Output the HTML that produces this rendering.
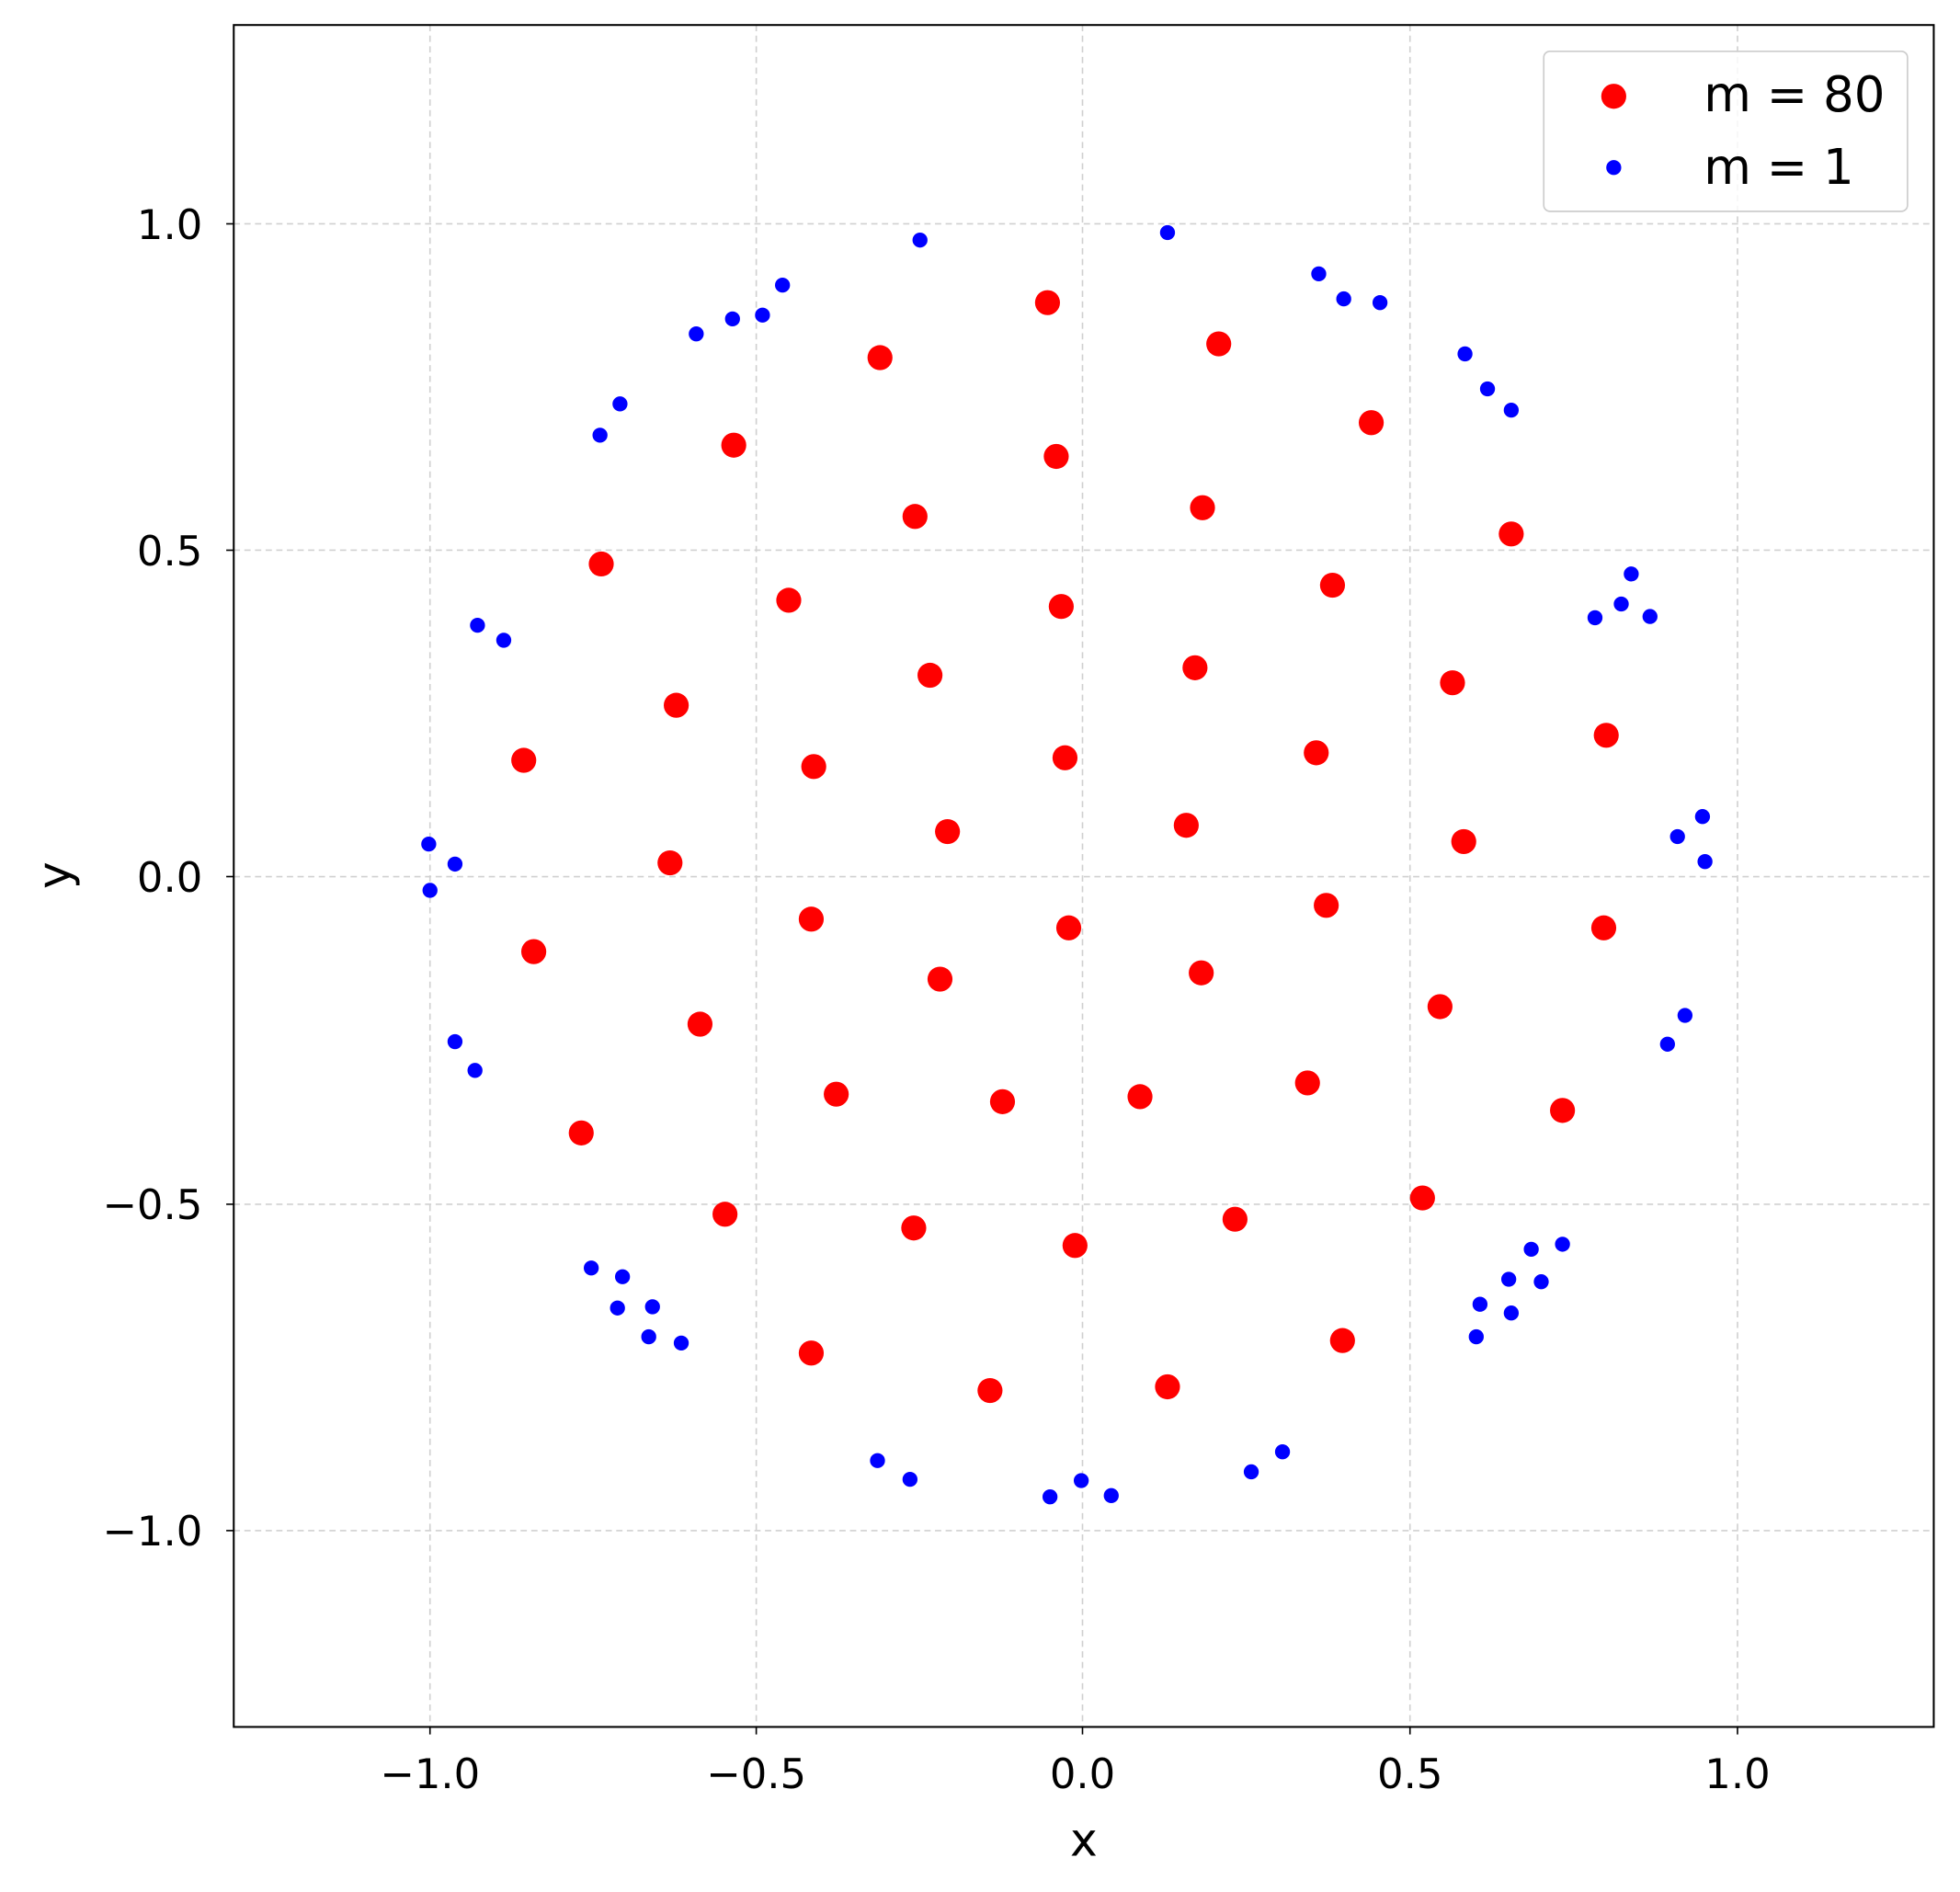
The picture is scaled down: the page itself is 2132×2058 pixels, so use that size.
<!DOCTYPE html>
<html><head><meta charset="utf-8"><style>html,body{margin:0;padding:0;background:#fff}svg{display:block}</style></head>
<body>
<svg width="2132" height="2058" viewBox="0 0 1568 1513" preserveAspectRatio="none" xmlns="http://www.w3.org/2000/svg" font-family="'DejaVu Sans','Liberation Sans',sans-serif">
<rect width="1568" height="1513" fill="#fff"/>
<g stroke="#d0d0d0" stroke-width="1.2" stroke-dasharray="5,3.5">
<line x1="344" y1="20" x2="344" y2="1381"/><line x1="605" y1="20" x2="605" y2="1381"/><line x1="866" y1="20" x2="866" y2="1381"/><line x1="1128" y1="20" x2="1128" y2="1381"/><line x1="1390" y1="20" x2="1390" y2="1381"/>
<line x1="187" y1="179" x2="1547" y2="179"/><line x1="187" y1="440" x2="1547" y2="440"/><line x1="187" y1="701" x2="1547" y2="701"/><line x1="187" y1="963" x2="1547" y2="963"/><line x1="187" y1="1224" x2="1547" y2="1224"/>
</g>
<g fill="red">
<circle cx="838" cy="242" r="10"/><circle cx="975" cy="275" r="10"/><circle cx="704" cy="286" r="10"/><circle cx="1097" cy="338" r="10"/><circle cx="587" cy="356" r="10"/><circle cx="845" cy="365" r="10"/><circle cx="732" cy="413" r="10"/><circle cx="962" cy="406" r="10"/><circle cx="1209" cy="427" r="10"/><circle cx="481" cy="451" r="10"/><circle cx="1066" cy="468" r="10"/><circle cx="631" cy="480" r="10"/><circle cx="849" cy="485" r="10"/><circle cx="744" cy="540" r="10"/><circle cx="956" cy="534" r="10"/><circle cx="1162" cy="546" r="10"/><circle cx="541" cy="564" r="10"/><circle cx="1285" cy="588" r="10"/><circle cx="419" cy="608" r="10"/><circle cx="651" cy="613" r="10"/><circle cx="852" cy="606" r="10"/><circle cx="1053" cy="602" r="10"/><circle cx="758" cy="665" r="10"/><circle cx="949" cy="660" r="10"/><circle cx="1171" cy="673" r="10"/><circle cx="536" cy="690" r="10"/><circle cx="1061" cy="724" r="10"/><circle cx="649" cy="735" r="10"/><circle cx="855" cy="742" r="10"/><circle cx="1283" cy="742" r="10"/><circle cx="427" cy="761" r="10"/><circle cx="752" cy="783" r="10"/><circle cx="961" cy="778" r="10"/><circle cx="1152" cy="805" r="10"/><circle cx="560" cy="819" r="10"/><circle cx="669" cy="875" r="10"/><circle cx="802" cy="881" r="10"/><circle cx="912" cy="877" r="10"/><circle cx="1046" cy="866" r="10"/><circle cx="1250" cy="888" r="10"/><circle cx="465" cy="906" r="10"/><circle cx="1138" cy="958" r="10"/><circle cx="580" cy="971" r="10"/><circle cx="731" cy="982" r="10"/><circle cx="988" cy="975" r="10"/><circle cx="860" cy="996" r="10"/><circle cx="649" cy="1082" r="10"/><circle cx="1074" cy="1072" r="10"/><circle cx="792" cy="1112" r="10"/><circle cx="934" cy="1109" r="10"/>
</g>
<g fill="blue">
<circle cx="736" cy="192" r="6"/><circle cx="934" cy="186" r="6"/><circle cx="1055" cy="219" r="6"/><circle cx="1075" cy="239" r="6"/><circle cx="1104" cy="242" r="6"/><circle cx="626" cy="228" r="6"/><circle cx="610" cy="252" r="6"/><circle cx="586" cy="255" r="6"/><circle cx="557" cy="267" r="6"/><circle cx="496" cy="323" r="6"/><circle cx="480" cy="348" r="6"/><circle cx="1172" cy="283" r="6"/><circle cx="1190" cy="311" r="6"/><circle cx="1209" cy="328" r="6"/><circle cx="382" cy="500" r="6"/><circle cx="403" cy="512" r="6"/><circle cx="1305" cy="459" r="6"/><circle cx="1297" cy="483" r="6"/><circle cx="1276" cy="494" r="6"/><circle cx="1320" cy="493" r="6"/><circle cx="1362" cy="653" r="6"/><circle cx="1342" cy="669" r="6"/><circle cx="1364" cy="689" r="6"/><circle cx="343" cy="675" r="6"/><circle cx="364" cy="691" r="6"/><circle cx="344" cy="712" r="6"/><circle cx="1348" cy="812" r="6"/><circle cx="1334" cy="835" r="6"/><circle cx="364" cy="833" r="6"/><circle cx="380" cy="856" r="6"/><circle cx="473" cy="1014" r="6"/><circle cx="498" cy="1021" r="6"/><circle cx="494" cy="1046" r="6"/><circle cx="522" cy="1045" r="6"/><circle cx="519" cy="1069" r="6"/><circle cx="545" cy="1074" r="6"/><circle cx="1250" cy="995" r="6"/><circle cx="1225" cy="999" r="6"/><circle cx="1207" cy="1023" r="6"/><circle cx="1233" cy="1025" r="6"/><circle cx="1184" cy="1043" r="6"/><circle cx="1209" cy="1050" r="6"/><circle cx="1181" cy="1069" r="6"/><circle cx="702" cy="1168" r="6"/><circle cx="728" cy="1183" r="6"/><circle cx="840" cy="1197" r="6"/><circle cx="865" cy="1184" r="6"/><circle cx="889" cy="1196" r="6"/><circle cx="1001" cy="1177" r="6"/><circle cx="1026" cy="1161" r="6"/>
</g>
<rect x="187" y="20" width="1360" height="1361" fill="none" stroke="#000" stroke-width="1.5"/>
<g stroke="#000" stroke-width="1.2">
<line x1="344" y1="1381" x2="344" y2="1387"/><line x1="605" y1="1381" x2="605" y2="1387"/><line x1="866" y1="1381" x2="866" y2="1387"/><line x1="1128" y1="1381" x2="1128" y2="1387"/><line x1="1390" y1="1381" x2="1390" y2="1387"/>
<line x1="181" y1="179" x2="187" y2="179"/><line x1="181" y1="440" x2="187" y2="440"/><line x1="181" y1="701" x2="187" y2="701"/><line x1="181" y1="963" x2="187" y2="963"/><line x1="181" y1="1224" x2="187" y2="1224"/>
</g>
<g font-size="33" fill="#000" text-anchor="middle">
<text x="344" y="1430">−1.0</text><text x="605" y="1430">−0.5</text><text x="866" y="1430">0.0</text><text x="1128" y="1430">0.5</text><text x="1390" y="1430">1.0</text>
</g>
<g font-size="33" fill="#000" text-anchor="end">
<text x="162" y="191">1.0</text><text x="162" y="452">0.5</text><text x="162" y="713">0.0</text><text x="162" y="975">−0.5</text><text x="162" y="1236">−1.0</text>
</g>
<text x="867" y="1484" font-size="37" text-anchor="middle">x</text>
<text x="0" y="0" font-size="37" text-anchor="middle" transform="translate(56,700) rotate(-90)">y</text>
<rect x="1235" y="41" width="291" height="128" rx="5" fill="#fff" fill-opacity="0.8" stroke="#ccc" stroke-width="1.2"/>
<circle cx="1291" cy="77" r="10" fill="red"/>
<circle cx="1291" cy="134" r="6" fill="blue"/>
<text x="1363" y="89" font-size="39">m = 80</text>
<text x="1363" y="147" font-size="39">m = 1</text>
</svg>
</body></html>
